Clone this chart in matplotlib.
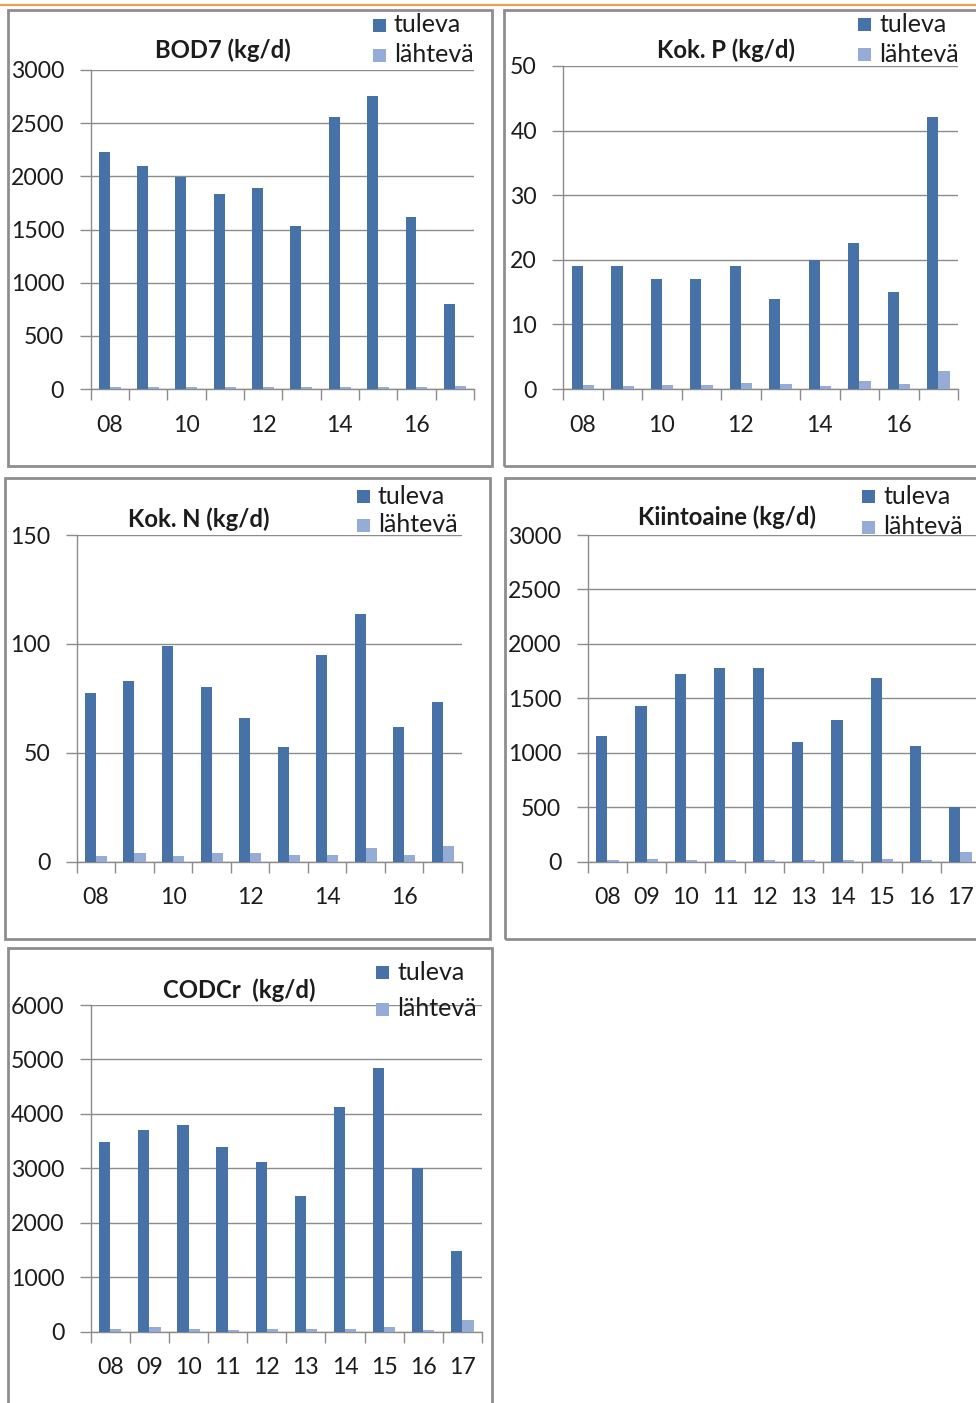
import numpy as np
import matplotlib
matplotlib.use("Agg")
import matplotlib.pyplot as plt
from matplotlib.patches import Rectangle
from matplotlib.lines import Line2D

# --- data -----------------------------------------------------------------
years = ["08", "09", "10", "11", "12", "13", "14", "15", "16", "17"]

bod_in = [2230, 2100, 1990, 1835, 1890, 1530, 2555, 2760, 1615, 800]
bod_out = [15, 15, 15, 15, 15, 15, 15, 15, 15, 30]

p_in = [19, 19, 17, 17, 19, 14, 20, 22.6, 15, 42.1]
p_out = [0.6, 0.4, 0.6, 0.6, 1.0, 0.8, 0.4, 1.2, 0.8, 2.8]

n_in = [77.3, 83.1, 99, 80.2, 66.1, 52.5, 94.9, 113.7, 62, 73.2]
n_out = [2.6, 3.8, 2.6, 3.8, 3.8, 3.2, 3.2, 6.1, 3.2, 7.3]

ss_in = [1158, 1428, 1722, 1781, 1781, 1097, 1299, 1689, 1063, 503]
ss_out = [15, 28, 15, 15, 15, 15, 15, 28, 15, 89]

cod_in = [3487, 3701, 3793, 3395, 3113, 2500, 4124, 4835, 3015, 1489]
cod_out = [55, 80, 55, 30, 55, 55, 55, 80, 30, 214]

series_names = ["tuleva", "lähtevä"]

# --- styling --------------------------------------------------------------
W, H = 976, 1403
C_IN = "#4672a8"
C_OUT = "#95acd6"
GRID = "#8c8c8c"
BOX = "#8e8e8e"
TXT = "#1c1c1c"
FONT = "Lato"
FS_TICK = 16.6
FS_LEG = 18
FS_TITLE = 17.2

plt.rcParams["font.family"] = [FONT, "DejaVu Sans"]

fig = plt.figure(figsize=(W / 100, H / 100), dpi=100)


def fx(x):
    return x / W


def fy(y):
    return 1 - y / H


def panel(box, area, ymax, ystep, title, title_xy, leg_xy, leg_gap,
          label_every, tuleva, lahteva):
    # outer frame of the chart
    bx0, by0, bx1, by1 = box
    fig.patches.append(Rectangle((fx(bx0), fy(by1)), fx(bx1 - bx0),
                                 (by1 - by0) / H, transform=fig.transFigure,
                                 fill=False, edgecolor=BOX, linewidth=2.0,
                                 zorder=0))
    l, t, r, b = area
    ax = fig.add_axes([fx(l), fy(b), fx(r - l), (b - t) / H])
    x = np.arange(len(years))
    w = 1 / 3.5
    ax.bar(x - w / 2, tuleva, width=w, color=C_IN, zorder=3)
    ax.bar(x + w / 2, lahteva, width=w, color=C_OUT, zorder=3)
    ax.set_xlim(-0.5, len(years) - 0.5)
    ax.set_ylim(0, ymax)
    ax.set_yticks(np.arange(0, ymax + ystep / 2, ystep))
    ax.yaxis.grid(True, color=GRID, linewidth=1.0, zorder=0)
    ax.set_axisbelow(True)
    for s in ("top", "right"):
        ax.spines[s].set_visible(False)
    for s in ("left", "bottom"):
        ax.spines[s].set_color(GRID)
        ax.spines[s].set_linewidth(1.0)
    ax.tick_params(axis="y", length=8, width=1.0, color=GRID, pad=11,
                   labelsize=FS_TICK, labelcolor=TXT)
    ax.set_xticks(x)
    ax.set_xticklabels([yr if i % label_every == 0 else ""
                        for i, yr in enumerate(years)])
    ax.set_xticks(np.arange(-0.5, len(years)), minor=True)
    ax.tick_params(axis="x", which="major", length=0, pad=18.5,
                   labelsize=FS_TICK, labelcolor=TXT)
    ax.tick_params(axis="x", which="minor", length=8, width=1.0, color=GRID)

    fig.text(fx(title_xy[0]), fy(title_xy[1]), title, ha="center",
             va="center", fontsize=FS_TITLE, fontweight="bold", color=TXT)

    lx, ly = leg_xy
    for k, (name, col) in enumerate(zip(series_names, [C_IN, C_OUT])):
        yy = ly + leg_gap * k
        fig.patches.append(Rectangle((fx(lx), fy(yy + 7)), fx(13), 13 / H,
                                     transform=fig.transFigure,
                                     facecolor=col, edgecolor="none",
                                     zorder=5))
        fig.text(fx(lx + 21), fy(yy), name, ha="left", va="center",
                 fontsize=FS_LEG, color=TXT)
    return ax


# top rule
fig.add_artist(Line2D([0, 1], [fy(4.5), fy(4.5)], transform=fig.transFigure,
                      color="#f39c50", linewidth=1.6))

panel((8, 10, 492, 466), (90.5, 70, 474, 389), 3000, 500,
      "BOD7 (kg/d)", (223, 50), (373, 25), 30, 2, bod_in, bod_out)
panel((504, 10, 990, 466), (563.3, 66, 958, 389), 50, 10,
      "Kok. P (kg/d)", (726, 50), (858, 24), 30, 2, p_in, p_out)
panel((5, 478, 490, 939), (76.7, 535, 462, 861.7), 150, 50,
      "Kok. N (kg/d)", (199, 519), (357, 496), 29, 2, n_in, n_out)
panel((505, 478, 990, 939), (587.7, 535, 980, 861.7), 3000, 500,
      "Kiintoaine (kg/d)", (727, 517), (862, 496), 31, 1, ss_in, ss_out)
panel((8, 948, 492, 1420), (90.7, 1005, 482, 1331.7), 6000, 1000,
      "CODCr  (kg/d)", (239, 990), (376, 972), 37, 1, cod_in, cod_out)

fig.savefig("out.png", dpi=100)
